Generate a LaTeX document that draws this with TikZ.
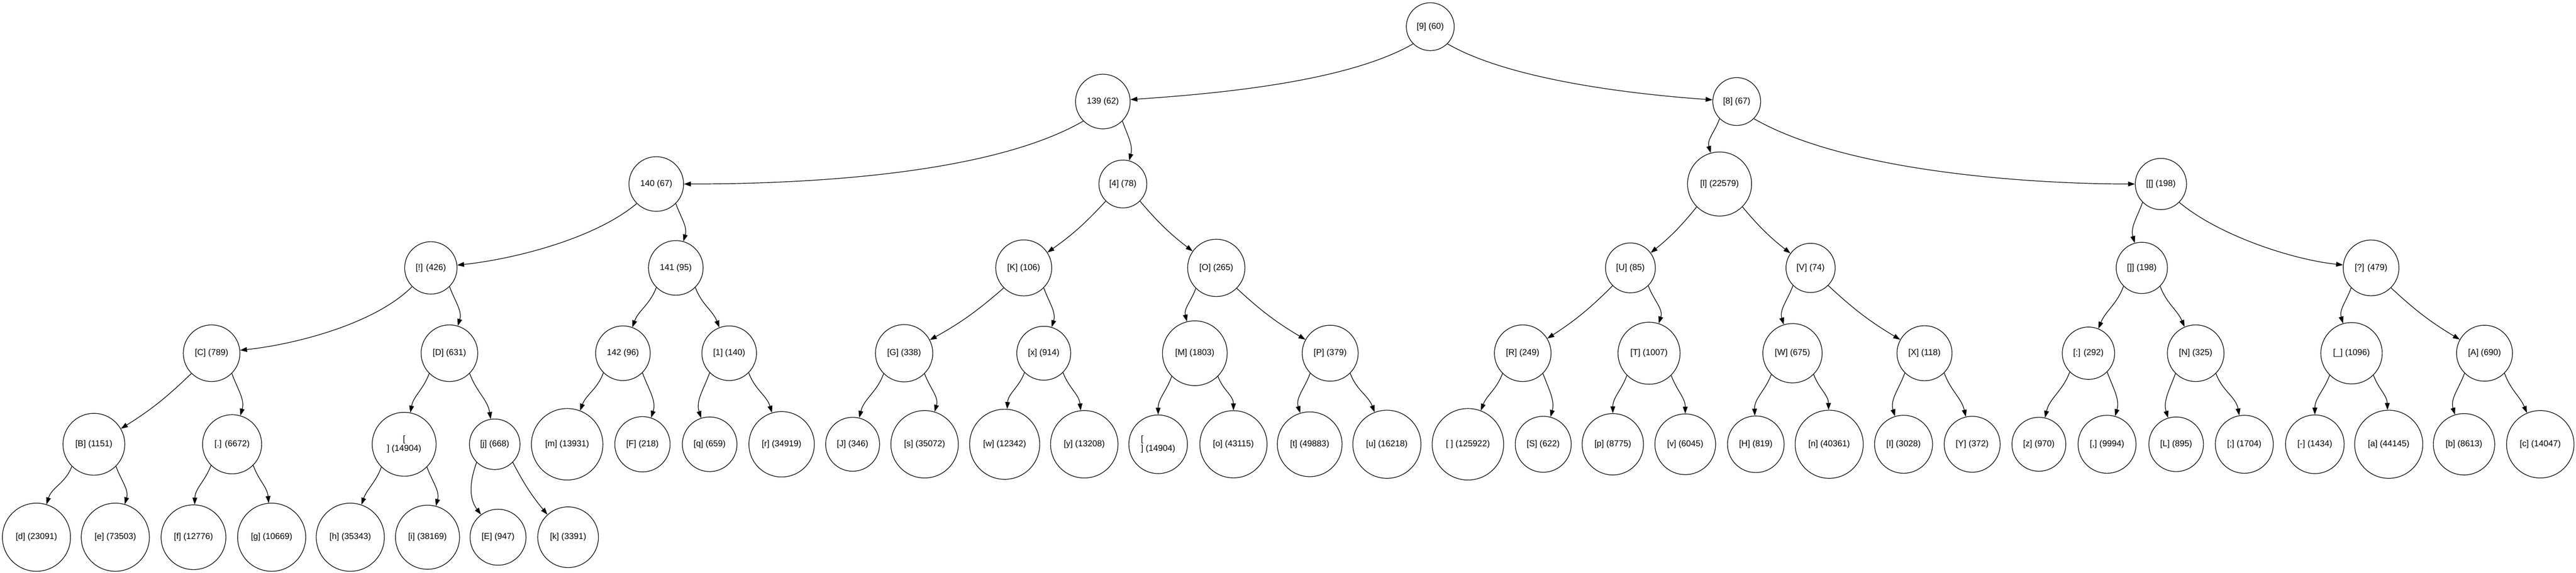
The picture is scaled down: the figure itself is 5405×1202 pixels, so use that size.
\documentclass[tikz,border=0pt]{standalone}
\usepackage{fontspec}
\setmainfont{Liberation Sans}
\usetikzlibrary{arrows.meta}
\newcommand{\nodefont}{\fontsize{18}{20}\selectfont}
\font\measfont="Liberation Sans" at 18pt
\newdimen\lbld
\newcommand{\mkn}[4]{%
  \setbox0=\hbox{\measfont #4}%
  \lbld=\dimexpr 1.414\wd0 + 19.8pt\relax
  \node[tnode, minimum size=\the\lbld] (#1) at (#2,-#3) {#4};}
\newcommand{\mke}[6]{\draw[lnk] (#1.#3) to[out=#4,in=#5,looseness=#6] (#2);}
\newcommand{\mkb}[4]{\draw[lnk] (#1.#3) to[bend #4=6] (#2);}
\tikzset{
  tnode/.style={circle, draw=black, line width=1.3pt, inner sep=0pt, font=\nodefont},
  lnk/.style={line width=1.3pt, -{Triangle[length=14.5pt,width=10pt]}}
}
\begin{document}
\begin{tikzpicture}[x=1pt,y=1pt]
\fill[white] (0,0) rectangle (5405,-1202);
\useasboundingbox (0,0) rectangle (5405,-1202);
% level 0
\mkn{n9}{3001}{56}{[9] (60)}
% level 1
\mkn{n139}{2314}{213}{139 (62)}
\mkn{n8}{3644}{213}{[8] (67)}
% level 2
\mkn{n140}{1377}{386}{140 (67)}
\mkn{n4}{2356}{386}{[4] (78)}
\mkn{nl}{3608}{386}{[l] (22579)}
\mkn{nlb}{4534}{386}{[[] (198)}
% level 3
\mkn{nex}{904}{562}{[!] (426)}
\mkn{n141}{1418}{562}{141 (95)}
\mkn{nK}{2148}{562}{[K] (106)}
\mkn{nO}{2552}{562}{[O] (265)}
\mkn{nU}{3421}{562}{[U] (85)}
\mkn{nV}{3799}{562}{[V] (74)}
\mkn{nrb}{4494}{562}{[]] (198)}
\mkn{nq}{4975}{562}{[?] (479)}
% level 4
\mkn{nC}{444}{741}{[C] (789)}
\mkn{nD}{943}{741}{[D] (631)}
\mkn{n142}{1307}{741}{142 (96)}
\mkn{n1}{1530}{741}{[1] (140)}
\mkn{nG}{1897}{741}{[G] (338)}
\mkn{nx}{2190}{741}{[x] (914)}
\mkn{nM}{2507}{741}{[M] (1803)}
\mkn{nP}{2791}{741}{[P] (379)}
\mkn{nR}{3195}{741}{[R] (249)}
\mkn{nT}{3460}{741}{[T] (1007)}
\mkn{nW}{3761}{741}{[W] (675)}
\mkn{nX}{4038}{741}{[X] (118)}
\mkn{ncolon}{4382}{741}{[:] (292)}
\mkn{nN}{4607}{741}{[N] (325)}
\mkn{nus}{4934}{741}{[\_] (1096)}
\mkn{nA}{5213}{741}{[A] (690)}
% level 5
\mkn{nB}{197}{932}{[B] (1151)}
\mkn{ndot}{487}{932}{[.] (6672)}
\node[tnode, minimum size=134pt, align=center] (nnl) at (848,-932) {[\\] (14904)};
\mkn{nj}{1038}{932}{[j] (668)}
\mkn{nm}{1190}{932}{[m] (13931)}
\mkn{nF}{1348}{932}{[F] (218)}
\mkn{nq2}{1489}{932}{[q] (659)}
\mkn{nr}{1640}{932}{[r] (34919)}
\mkn{nJ}{1789}{932}{[J] (346)}
\mkn{ns}{1940}{932}{[s] (35072)}
\mkn{nw}{2108}{932}{[w] (12342)}
\mkn{ny}{2275}{932}{[y] (13208)}
\node[tnode, minimum size=123pt, align=left] (ncr) at (2430,-932) {[\\] (14904)};
\mkn{no}{2588}{932}{[o] (43115)}
\mkn{nt}{2748}{932}{[t] (49883)}
\mkn{nu}{2910}{932}{[u] (16218)}
\mkn{nsp}{3080}{932}{[ ] (125922)}
\mkn{nS}{3238}{932}{[S] (622)}
\mkn{np}{3384}{932}{[p] (8775)}
\mkn{nv}{3536}{932}{[v] (6045)}
\mkn{nH}{3684}{932}{[H] (819)}
\mkn{nn}{3838}{932}{[n] (40361)}
\mkn{nI}{3994}{932}{[I] (3028)}
\mkn{nY}{4138}{932}{[Y] (372)}
\mkn{nz}{4278}{932}{[z] (970)}
\mkn{ncomma}{4421}{932}{[,] (9994)}
\mkn{nL}{4566}{932}{[L] (895)}
\mkn{nsemi}{4709}{932}{[;] (1704)}
\mkn{nminus}{4857}{932}{[-] (1434)}
\mkn{na}{5012}{932}{[a] (44145)}
\mkn{nb}{5170}{932}{[b] (8613)}
\mkn{nc}{5330}{932}{[c] (14047)}
% level 6
\mkn{nd}{76.5}{1127}{[d] (23091)}
\mkn{ne}{242}{1127}{[e] (73503)}
\mkn{nf}{406}{1127}{[f] (12776)}
\mkn{ng}{570}{1127}{[g] (10669)}
\mkn{nh}{735}{1127}{[h] (35343)}
\mkn{ni}{897}{1127}{[i] (38169)}
\mkn{nE}{1045}{1127}{[E] (947)}
\mkn{nk}{1192}{1127}{[k] (3391)}
% large edges
\mke{n9}{n139}{-135}{-150}{4}{0.7}
\mke{n9}{n8}{-45}{-30}{176}{0.7}
\mke{n139}{n140}{-135}{-150}{0}{0.7}
\mke{n8}{nlb}{-45}{-30}{180}{0.7}
\mke{n140}{nex}{-135}{-140}{6}{0.75}
\mke{nex}{nC}{-135}{-135}{6}{0.75}
\mke{nlb}{nq}{-45}{-40}{174}{0.75}
% small edges
\mke{n139}{n4}{-45}{-70}{75}{1}
\mke{n8}{nl}{-135}{-110}{106}{1}
\mke{n140}{n141}{-45}{-70}{74}{1}
\mke{nex}{nD}{-45}{-70}{73}{1}
\mke{nlb}{nrb}{-135}{-110}{106}{1}
\mke{n141}{n142}{-135}{-110}{70}{1}
\mke{n141}{n1}{-45}{-70}{111}{1}
\mke{nK}{nx}{-45}{-70}{73}{1}
\mke{nO}{nM}{-135}{-110}{104}{1}
\mke{nU}{nT}{-45}{-70}{72}{1}
\mke{nV}{nW}{-135}{-110}{107}{1}
\mke{nrb}{ncolon}{-135}{-110}{68}{1}
\mke{nrb}{nN}{-45}{-70}{113}{1}
\mke{nq}{nus}{-135}{-110}{106}{1}
\mke{nC}{ndot}{-45}{-70}{74}{1}
\mke{nD}{nnl}{-135}{-110}{79}{1}
\mke{nD}{nj}{-45}{-70}{99}{1}
\mke{n142}{nm}{-135}{-110}{69}{1}
\mke{n142}{nF}{-45}{-70}{72}{1}
\mke{n1}{nq2}{-135}{-110}{108}{1}
\mke{n1}{nr}{-45}{-70}{107}{1}
\mke{nG}{nJ}{-135}{-110}{76}{1}
\mke{nG}{ns}{-45}{-70}{73}{1}
\mke{nx}{nw}{-135}{-110}{86}{1}
\mke{nx}{ny}{-45}{-70}{96}{1}
\mke{nM}{ncr}{-135}{-110}{90}{1}
\mke{nM}{no}{-45}{-70}{90}{1}
\mke{nP}{nt}{-135}{-110}{107}{1}
\mke{nP}{nu}{-45}{-70}{111}{1}
\mke{nR}{nsp}{-135}{-110}{69}{1}
\mke{nR}{nS}{-45}{-70}{75}{1}
\mke{nT}{np}{-135}{-110}{90}{1}
\mke{nT}{nv}{-45}{-70}{90}{1}
\mke{nW}{nH}{-135}{-110}{92}{1}
\mke{nW}{nn}{-45}{-70}{91}{1}
\mke{nX}{nI}{-135}{-110}{107}{1}
\mke{nX}{nY}{-45}{-70}{103}{1}
\mke{ncolon}{nz}{-135}{-110}{77}{1}
\mke{ncolon}{ncomma}{-45}{-70}{74}{1}
\mke{nN}{nL}{-135}{-110}{107}{1}
\mke{nN}{nsemi}{-45}{-70}{100}{1}
\mke{nus}{nminus}{-135}{-110}{90}{1}
\mke{nus}{na}{-45}{-70}{92}{1}
\mke{nA}{nb}{-135}{-110}{107}{1}
\mke{nA}{nc}{-45}{-70}{113}{1}
\mke{nB}{nd}{-135}{-110}{73}{1}
\mke{nB}{ne}{-45}{-70}{74}{1}
\mke{ndot}{nf}{-135}{-110}{88}{1}
\mke{ndot}{ng}{-45}{-70}{95}{1}
\mke{nnl}{nh}{-135}{-110}{71}{1}
\mke{nnl}{ni}{-45}{-70}{75}{1}
\mke{nj}{nE}{-135}{-110}{127}{1}
% medium edges
\mkb{n4}{nK}{-135}{left}
\mkb{n4}{nO}{-45}{right}
\mkb{nl}{nU}{-135}{left}
\mkb{nl}{nV}{-45}{right}
\mkb{nK}{nG}{-135}{left}
\mkb{nO}{nP}{-45}{right}
\mkb{nU}{nR}{-135}{left}
\mkb{nV}{nX}{-45}{right}
\mkb{nq}{nA}{-45}{right}
\mkb{nC}{nB}{-135}{left}
\mkb{nj}{nk}{-45}{right}
\end{tikzpicture}
\end{document}
